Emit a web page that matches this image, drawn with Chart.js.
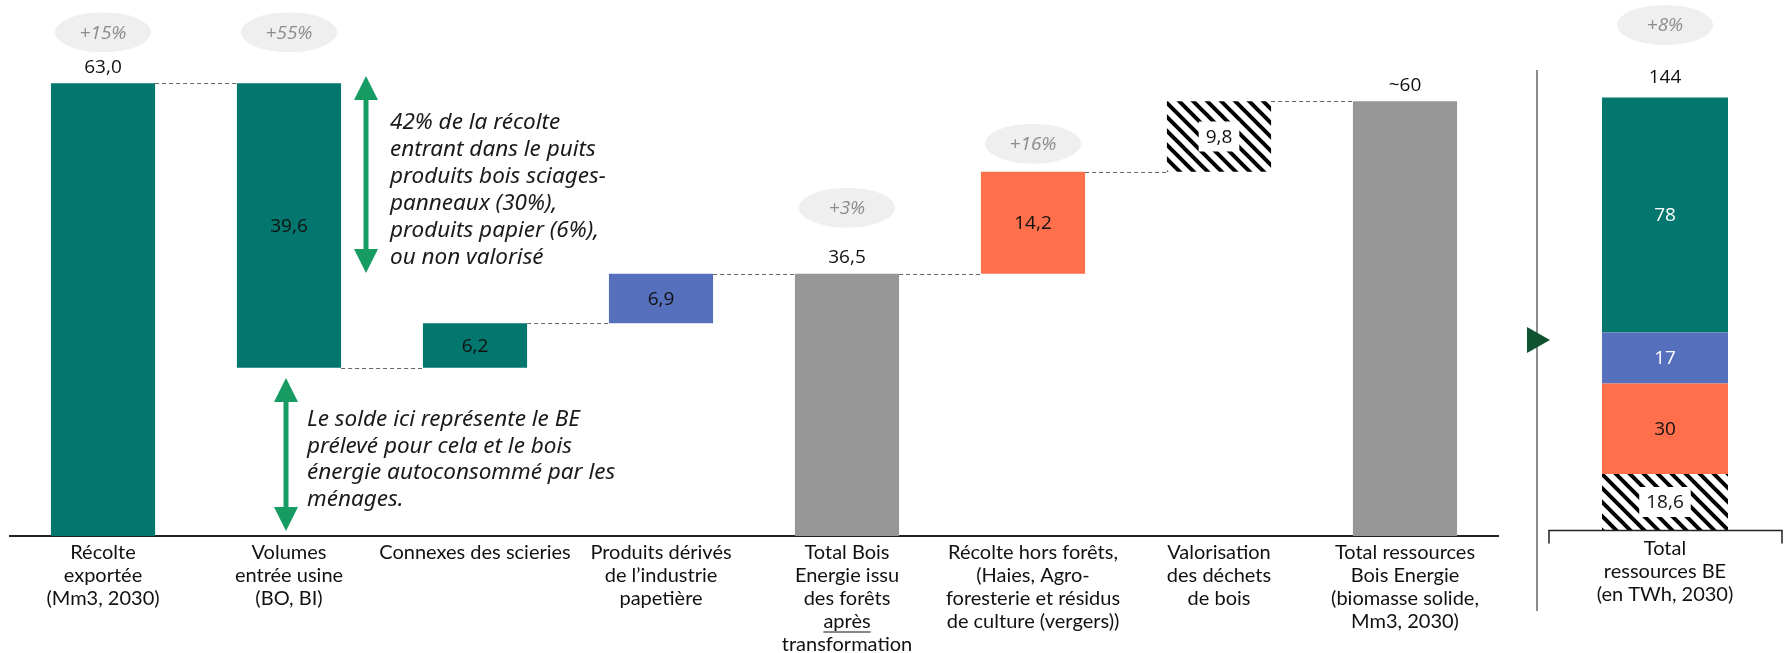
<!DOCTYPE html>
<html>
<head>
<meta charset="utf-8">
<script src="https://cdn.jsdelivr.net/npm/chart.js@4.4.0/dist/chart.umd.min.js"></script>
<style>
  body { margin: 0; background: #fff; width: 1785px; height: 653px; overflow: hidden; position: relative; }
  canvas { position: absolute; top: 0; }
  #left { left: 0; }
  #right { left: 1520px; }
</style>
</head>
<body>
<canvas id="left" width="1520" height="653"></canvas>
<canvas id="right" width="265" height="653"></canvas>
<script>
// waterfall (Mm3, 2030)
const categories = [
  ['Récolte', 'exportée', '(Mm3, 2030)'],
  ['Volumes', 'entrée usine', '(BO, BI)'],
  ['Connexes des scieries'],
  ['Produits dérivés', 'de l’industrie', 'papetière'],
  ['Total Bois', 'Energie issu', 'des forêts', 'après', 'transformation'],
  ['Récolte hors forêts,', '(Haies, Agro-', 'foresterie et résidus', 'de culture (vergers))'],
  ['Valorisation', 'des déchets', 'de bois'],
  ['Total ressources', 'Bois Energie', '(biomasse solide,', 'Mm3, 2030)']
];
const values = [63.0, 39.6, 6.2, 6.9, 36.5, 14.2, 9.8, 60.5];
const stepType = ['total', 'down', 'up', 'up', 'total', 'up', 'up', 'total'];
const valueLabels = ['63,0', '39,6', '6,2', '6,9', '36,5', '14,2', '9,8', '~60'];
const growth = ['+15%', '+55%', '', '', '+3%', '+16%', '', ''];

const noteTop = ['42% de la récolte', 'entrant dans le puits', 'produits bois sciages-',
  'panneaux (30%),', 'produits papier (6%),', 'ou non valorisé'];
const noteBottom = ['Le solde ici représente le BE', 'prélevé pour cela et le bois',
  'énergie autoconsommé par les', 'ménages.'];

// stacked total (TWh, 2030)
const rightCategory = [['Total', 'ressources BE', '(en TWh, 2030)']];
const rightSeries = ['Valorisation des déchets de bois', 'Récolte hors forêts', 'Produits dérivés', 'Bois forêts'];
const rightValues = [18.6, 30, 17, 78];
const rightLabels = ['18,6', '30', '17', '78'];
const rightTotal = '144';
const rightGrowth = '+8%';

const TEAL = '#03766D', BLUE = '#5770BE', ORANGE = '#FF6F4C', GREY = '#979797', GREEN = '#169B62';

function hatch() {
  const c = document.createElement('canvas');
  c.width = 14; c.height = 14;
  const g = c.getContext('2d');
  g.fillStyle = '#fff'; g.fillRect(0, 0, 14, 14);
  g.strokeStyle = '#000'; g.lineWidth = 4;
  g.beginPath();
  g.moveTo(-2, -2); g.lineTo(16, 16);
  g.moveTo(-2, 12); g.lineTo(2, 16);
  g.moveTo(12, -2); g.lineTo(16, 2);
  g.stroke();
  return g.createPattern(c, 'repeat');
}
const HATCH = hatch();

// floating bars for the waterfall
let run = 0;
const runAfter = [];
const floating = values.map((v, i) => {
  let r;
  if (stepType[i] === 'total') { r = [0, v]; run = v; }
  else if (stepType[i] === 'down') { r = [run - v, run]; run = run - v; }
  else { r = [run, run + v]; run = run + v; }
  runAfter.push(run);
  return r;
});

const barColors = [TEAL, TEAL, TEAL, BLUE, GREY, ORANGE, HATCH, GREY];

const numFont = '19px "Open Sans"';
const badgeFont = 'italic 19px "Open Sans"';

function badge(ctx, x, y, txt) {
  ctx.save();
  ctx.fillStyle = '#EFEFEF';
  ctx.beginPath();
  ctx.ellipse(x, y, 48, 20, 0, 0, Math.PI * 2);
  ctx.fill();
  ctx.fillStyle = '#8C8C8C';
  ctx.font = badgeFont;
  ctx.textAlign = 'center';
  ctx.textBaseline = 'middle';
  ctx.fillText(txt, x, y + 1);
  ctx.restore();
}

function boxedText(ctx, x, y, txt, color, boxed) {
  ctx.save();
  ctx.font = numFont;
  ctx.textAlign = 'center';
  ctx.textBaseline = 'middle';
  if (boxed) {
    const w = ctx.measureText(txt).width + 14;
    ctx.fillStyle = '#fff';
    ctx.fillRect(x - w / 2, y - 15, w, 30);
  }
  ctx.fillStyle = color;
  ctx.fillText(txt, x, y + 1);
  ctx.restore();
}

function doubleArrow(ctx, x, y1, y2) {
  const hw = 12, hh = 24;
  ctx.save();
  ctx.fillStyle = GREEN;
  ctx.strokeStyle = GREEN;
  ctx.lineWidth = 5;
  ctx.beginPath(); ctx.moveTo(x, y1 + hh - 2); ctx.lineTo(x, y2 - hh + 2); ctx.stroke();
  ctx.beginPath(); ctx.moveTo(x, y1); ctx.lineTo(x - hw, y1 + hh); ctx.lineTo(x + hw, y1 + hh); ctx.closePath(); ctx.fill();
  ctx.beginPath(); ctx.moveTo(x, y2); ctx.lineTo(x - hw, y2 - hh); ctx.lineTo(x + hw, y2 - hh); ctx.closePath(); ctx.fill();
  ctx.restore();
}

function note(ctx, lines, x, y, lh) {
  ctx.save();
  ctx.font = 'italic 22.5px "Noto Sans"';
  ctx.fillStyle = '#1a1a1a';
  ctx.textAlign = 'left';
  ctx.textBaseline = 'middle';
  lines.forEach((l, i) => ctx.fillText(l, x, y + i * lh));
  ctx.restore();
}

const waterfallDecor = {
  id: 'waterfallDecor',
  afterDatasetsDraw(chart) {
    const ctx = chart.ctx;
    const y = chart.scales.y;
    const bars = chart.getDatasetMeta(0).data;

    // dashed connectors
    ctx.save();
    ctx.strokeStyle = '#666';
    ctx.lineWidth = 1.2;
    ctx.setLineDash([4, 3]);
    for (let i = 0; i < bars.length - 1; i++) {
      const a = bars[i], b = bars[i + 1];
      const py = Math.round(y.getPixelForValue(runAfter[i])) + 0.5;
      ctx.beginPath();
      ctx.moveTo(a.x + a.width / 2, py);
      ctx.lineTo(b.x - b.width / 2, py);
      ctx.stroke();
    }
    ctx.restore();

    // value labels
    bars.forEach((b, i) => {
      if (stepType[i] === 'total') {
        boxedText(ctx, b.x, b.y - 17, valueLabels[i], '#111', false);
      } else {
        boxedText(ctx, b.x, (b.y + b.base) / 2, valueLabels[i], '#111', barColors[i] === HATCH);
      }
    });

    // growth badges
    const gap = { 0: 51, 1: 51, 4: 66, 5: 28 };
    bars.forEach((b, i) => {
      if (growth[i]) badge(ctx, b.x, b.y - gap[i], growth[i]);
    });

    // arrows and notes
    doubleArrow(ctx, 366, 76, 273);
    note(ctx, noteTop, 390, 123, 27);
    doubleArrow(ctx, 286, 378, 531);
    note(ctx, noteBottom, 307, 420, 26.5);
  },
  afterDraw(chart) {
    // underline "après"
    const x = chart.scales.x;
    const ctx = chart.ctx;
    ctx.save();
    ctx.font = '20px Lato';
    const w = ctx.measureText('après').width;
    const cx = x.getPixelForValue(4);
    const uy = x.top + 5 + 11.5 + 3 * 23 + 10;
    ctx.strokeStyle = '#111';
    ctx.lineWidth = 1;
    ctx.beginPath();
    ctx.moveTo(cx - w / 2, uy + 0.5);
    ctx.lineTo(cx + w / 2, uy + 0.5);
    ctx.stroke();
    ctx.restore();
  }
};

new Chart(document.getElementById('left'), {
  type: 'bar',
  data: {
    labels: categories,
    datasets: [{
      data: floating,
      backgroundColor: barColors,
      borderWidth: 0,
      barPercentage: 0.56,
      categoryPercentage: 1
    }]
  },
  options: {
    responsive: false,
    animation: false,
    devicePixelRatio: 1,
    layout: { padding: { left: 10, right: 22, top: 33, bottom: 0 } },
    plugins: { legend: { display: false }, tooltip: { enabled: false } },
    scales: {
      x: {
        grid: { display: false, drawTicks: false },
        border: { display: true, color: '#222', width: 2 },
        ticks: {
          color: '#111',
          font: { family: 'Lato', size: 20, lineHeight: 1.15 },
          padding: 5,
          maxRotation: 0,
          autoSkip: false
        },
        afterFit(scale) { scale.height = 117; }
      },
      y: { display: false, min: 0, max: 70 }
    }
  },
  plugins: [waterfallDecor]
});

// right stacked bar
const rightColors = [HATCH, ORANGE, BLUE, TEAL];
const rightLabelColors = ['#111', '#111', '#fff', '#fff'];

const stackDecor = {
  id: 'stackDecor',
  beforeDatasetsDraw(chart) {
    const ctx = chart.ctx;
    ctx.save();
    // separator line
    ctx.strokeStyle = '#8C8C8C';
    ctx.lineWidth = 2;
    ctx.beginPath(); ctx.moveTo(17, 70); ctx.lineTo(17, 611); ctx.stroke();
    // marker
    ctx.fillStyle = '#0E5230';
    ctx.beginPath(); ctx.moveTo(7, 327); ctx.lineTo(30, 340); ctx.lineTo(7, 353); ctx.closePath(); ctx.fill();
    ctx.restore();
  },
  afterDatasetsDraw(chart) {
    const ctx = chart.ctx;
    let top = null;
    chart.data.datasets.forEach((ds, i) => {
      const b = chart.getDatasetMeta(i).data[0];
      boxedText(ctx, b.x, (b.y + b.base) / 2, rightLabels[i], rightLabelColors[i], rightColors[i] === HATCH);
      top = b;
    });
    boxedText(ctx, top.x, top.y - 21, rightTotal, '#111', false);
    badge(ctx, top.x, 25, rightGrowth);

    // bracket under the bar
    const by = chart.chartArea.bottom + 0.5;
    ctx.save();
    ctx.strokeStyle = '#222';
    ctx.lineWidth = 1.5;
    ctx.beginPath();
    ctx.moveTo(29, by + 13); ctx.lineTo(29, by); ctx.lineTo(262, by); ctx.lineTo(262, by + 13);
    ctx.stroke();
    ctx.restore();
  }
};

new Chart(document.getElementById('right'), {
  type: 'bar',
  data: {
    labels: rightCategory,
    datasets: rightSeries.map((name, i) => ({
      label: name,
      data: [rightValues[i]],
      backgroundColor: rightColors[i],
      borderWidth: 0,
      barPercentage: 0.6,
      categoryPercentage: 1
    }))
  },
  options: {
    responsive: false,
    animation: false,
    devicePixelRatio: 1,
    layout: { padding: { left: 40, right: 15, top: 33, bottom: 0 } },
    plugins: { legend: { display: false }, tooltip: { enabled: false } },
    scales: {
      x: {
        stacked: true,
        grid: { display: false, drawTicks: false },
        border: { display: false },
        ticks: {
          color: '#111',
          font: { family: 'Lato', size: 20, lineHeight: 1.15 },
          padding: 7,
          maxRotation: 0
        },
        afterFit(scale) { scale.height = 123; }
      },
      y: { display: false, stacked: true, min: 0, max: 165 }
    }
  },
  plugins: [stackDecor]
});
</script>
</body>
</html>
